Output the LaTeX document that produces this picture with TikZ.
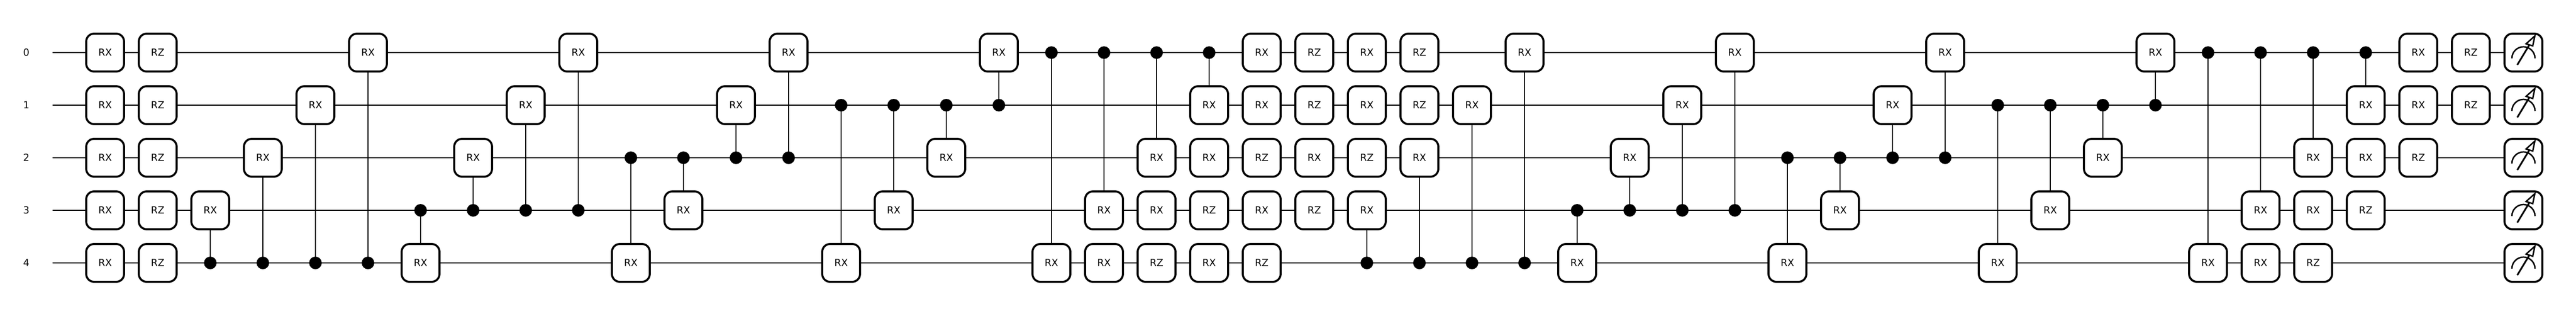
\documentclass[tikz,border=0pt]{standalone}
\usepackage{fontspec}
\setmainfont{DejaVu Sans}
\usepackage{tikz}

\begin{document}
\begin{tikzpicture}[
    gate/.style={draw, rectangle, rounded corners=0.15cm, fill=white, minimum size=0.72cm, inner sep=0pt, line width=0.038cm, font=\fontsize{5.3}{6}\selectfont},
    meter/.style={gate, path picture={
        \draw[shift={(path picture bounding box.center)}, sharp corners, line width=0.027cm] (-0.22,-0.11) arc (180:0:0.22);
        \draw[shift={(path picture bounding box.center)}, sharp corners, line width=0.032cm] (-0.117,-0.233) -- (0.113,0.147);
        \draw[shift={(path picture bounding box.center)}, sharp corners, line width=0.027cm, miter limit=20, fill=white] (0.217,0.317) -- (0.05,0.167) -- (0.177,0.127) -- cycle;
    }},
    dot/.style={circle, fill=black, minimum size=0.24cm, inner sep=0pt, outer sep=0pt},
    lbl/.style={inner sep=0pt, font=\fontsize{5.3}{6}\selectfont},
    n/.style={line width=0.022cm},
    c/.style={line width=0.02cm}]
            \useasboundingbox (0,0) rectangle (49,-6);
            % wire ends
            \coordinate (s0) at (1,-1);
            \coordinate (s1) at (1,-2);
            \coordinate (s2) at (1,-3);
            \coordinate (s3) at (1,-4);
            \coordinate (s4) at (1,-5);
            % labels
            \node[lbl] (q0) at (0.5,-1) {0};
            \node[lbl] (q1) at (0.5,-2) {1};
            \node[lbl] (q2) at (0.5,-3) {2};
            \node[lbl] (q3) at (0.5,-4) {3};
            \node[lbl] (q4) at (0.5,-5) {4};
            % measurements
            \node[meter] (m0) at (48,-1) {};
            \node[meter] (m1) at (48,-2) {};
            \node[meter] (m2) at (48,-3) {};
            \node[meter] (m3) at (48,-4) {};
            \node[meter] (m4) at (48,-5) {};
            % wires
            \draw [n] (s0) -- (m0);
            \draw [n] (s1) -- (m1);
            \draw [n] (s2) -- (m2);
            \draw [n] (s3) -- (m3);
            \draw [n] (s4) -- (m4);
            % gates
            \node[gate] (a2w0) at (2,-1) {RX};
            \node[gate] (a2w1) at (2,-2) {RX};
            \node[gate] (a2w2) at (2,-3) {RX};
            \node[gate] (a2w3) at (2,-4) {RX};
            \node[gate] (a2w4) at (2,-5) {RX};
            \node[gate] (a3w0) at (3,-1) {RZ};
            \node[gate] (a3w1) at (3,-2) {RZ};
            \node[gate] (a3w2) at (3,-3) {RZ};
            \node[gate] (a3w3) at (3,-4) {RZ};
            \node[gate] (a3w4) at (3,-5) {RZ};
            \node[gate] (a4) at (4,-4) {RX};
            \node[gate] (a5) at (5,-3) {RX};
            \node[gate] (a6) at (6,-2) {RX};
            \node[gate] (a7) at (7,-1) {RX};
            \node[gate] (a8) at (8,-5) {RX};
            \node[gate] (a9) at (9,-3) {RX};
            \node[gate] (a10) at (10,-2) {RX};
            \node[gate] (a11) at (11,-1) {RX};
            \node[gate] (a12) at (12,-5) {RX};
            \node[gate] (a13) at (13,-4) {RX};
            \node[gate] (a14) at (14,-2) {RX};
            \node[gate] (a15) at (15,-1) {RX};
            \node[gate] (a16) at (16,-5) {RX};
            \node[gate] (a17) at (17,-4) {RX};
            \node[gate] (a18) at (18,-3) {RX};
            \node[gate] (a19) at (19,-1) {RX};
            \node[gate] (a20) at (20,-5) {RX};
            \node[gate] (a21) at (21,-4) {RX};
            \node[gate] (a21w4) at (21,-5) {RX};
            \node[gate] (a22) at (22,-3) {RX};
            \node[gate] (a22w3) at (22,-4) {RX};
            \node[gate] (a22w4) at (22,-5) {RZ};
            \node[gate] (a23) at (23,-2) {RX};
            \node[gate] (a23w2) at (23,-3) {RX};
            \node[gate] (a23w3) at (23,-4) {RZ};
            \node[gate] (a23w4) at (23,-5) {RX};
            \node[gate] (a24w0) at (24,-1) {RX};
            \node[gate] (a24w1) at (24,-2) {RX};
            \node[gate] (a24w2) at (24,-3) {RZ};
            \node[gate] (a24w3) at (24,-4) {RX};
            \node[gate] (a24w4) at (24,-5) {RZ};
            \node[gate] (a25w0) at (25,-1) {RZ};
            \node[gate] (a25w1) at (25,-2) {RZ};
            \node[gate] (a25w2) at (25,-3) {RX};
            \node[gate] (a25w3) at (25,-4) {RZ};
            \node[gate] (a26w0) at (26,-1) {RX};
            \node[gate] (a26w1) at (26,-2) {RX};
            \node[gate] (a26w2) at (26,-3) {RZ};
            \node[gate] (a26) at (26,-4) {RX};
            \node[gate] (a27w0) at (27,-1) {RZ};
            \node[gate] (a27w1) at (27,-2) {RZ};
            \node[gate] (a27) at (27,-3) {RX};
            \node[gate] (a28) at (28,-2) {RX};
            \node[gate] (a29) at (29,-1) {RX};
            \node[gate] (a30) at (30,-5) {RX};
            \node[gate] (a31) at (31,-3) {RX};
            \node[gate] (a32) at (32,-2) {RX};
            \node[gate] (a33) at (33,-1) {RX};
            \node[gate] (a34) at (34,-5) {RX};
            \node[gate] (a35) at (35,-4) {RX};
            \node[gate] (a36) at (36,-2) {RX};
            \node[gate] (a37) at (37,-1) {RX};
            \node[gate] (a38) at (38,-5) {RX};
            \node[gate] (a39) at (39,-4) {RX};
            \node[gate] (a40) at (40,-3) {RX};
            \node[gate] (a41) at (41,-1) {RX};
            \node[gate] (a42) at (42,-5) {RX};
            \node[gate] (a43) at (43,-4) {RX};
            \node[gate] (a43w4) at (43,-5) {RX};
            \node[gate] (a44) at (44,-3) {RX};
            \node[gate] (a44w3) at (44,-4) {RX};
            \node[gate] (a44w4) at (44,-5) {RZ};
            \node[gate] (a45) at (45,-2) {RX};
            \node[gate] (a45w2) at (45,-3) {RX};
            \node[gate] (a45w3) at (45,-4) {RZ};
            \node[gate] (a46w0) at (46,-1) {RX};
            \node[gate] (a46w1) at (46,-2) {RX};
            \node[gate] (a46w2) at (46,-3) {RZ};
            \node[gate] (a47w0) at (47,-1) {RZ};
            \node[gate] (a47w1) at (47,-2) {RZ};
            % controls
            \node[dot] (d4) at (4,-5) {};
            \node[dot] (d5) at (5,-5) {};
            \node[dot] (d6) at (6,-5) {};
            \node[dot] (d7) at (7,-5) {};
            \node[dot] (d8) at (8,-4) {};
            \node[dot] (d9) at (9,-4) {};
            \node[dot] (d10) at (10,-4) {};
            \node[dot] (d11) at (11,-4) {};
            \node[dot] (d12) at (12,-3) {};
            \node[dot] (d13) at (13,-3) {};
            \node[dot] (d14) at (14,-3) {};
            \node[dot] (d15) at (15,-3) {};
            \node[dot] (d16) at (16,-2) {};
            \node[dot] (d17) at (17,-2) {};
            \node[dot] (d18) at (18,-2) {};
            \node[dot] (d19) at (19,-2) {};
            \node[dot] (d20) at (20,-1) {};
            \node[dot] (d21) at (21,-1) {};
            \node[dot] (d22) at (22,-1) {};
            \node[dot] (d23) at (23,-1) {};
            \node[dot] (d26) at (26,-5) {};
            \node[dot] (d27) at (27,-5) {};
            \node[dot] (d28) at (28,-5) {};
            \node[dot] (d29) at (29,-5) {};
            \node[dot] (d30) at (30,-4) {};
            \node[dot] (d31) at (31,-4) {};
            \node[dot] (d32) at (32,-4) {};
            \node[dot] (d33) at (33,-4) {};
            \node[dot] (d34) at (34,-3) {};
            \node[dot] (d35) at (35,-3) {};
            \node[dot] (d36) at (36,-3) {};
            \node[dot] (d37) at (37,-3) {};
            \node[dot] (d38) at (38,-2) {};
            \node[dot] (d39) at (39,-2) {};
            \node[dot] (d40) at (40,-2) {};
            \node[dot] (d41) at (41,-2) {};
            \node[dot] (d42) at (42,-1) {};
            \node[dot] (d43) at (43,-1) {};
            \node[dot] (d44) at (44,-1) {};
            \node[dot] (d45) at (45,-1) {};
            % edges
            \draw [c] (d4) -- (a4);
            \draw [c] (d5) -- (a5);
            \draw [c] (d6) -- (a6);
            \draw [c] (d7) -- (a7);
            \draw [c] (d8) -- (a8);
            \draw [c] (d9) -- (a9);
            \draw [c] (d10) -- (a10);
            \draw [c] (d11) -- (a11);
            \draw [c] (d12) -- (a12);
            \draw [c] (d13) -- (a13);
            \draw [c] (d14) -- (a14);
            \draw [c] (d15) -- (a15);
            \draw [c] (d16) -- (a16);
            \draw [c] (d17) -- (a17);
            \draw [c] (d18) -- (a18);
            \draw [c] (d19) -- (a19);
            \draw [c] (d20) -- (a20);
            \draw [c] (d21) -- (a21);
            \draw [c] (d22) -- (a22);
            \draw [c] (d23) -- (a23);
            \draw [c] (d26) -- (a26);
            \draw [c] (d27) -- (a27);
            \draw [c] (d28) -- (a28);
            \draw [c] (d29) -- (a29);
            \draw [c] (d30) -- (a30);
            \draw [c] (d31) -- (a31);
            \draw [c] (d32) -- (a32);
            \draw [c] (d33) -- (a33);
            \draw [c] (d34) -- (a34);
            \draw [c] (d35) -- (a35);
            \draw [c] (d36) -- (a36);
            \draw [c] (d37) -- (a37);
            \draw [c] (d38) -- (a38);
            \draw [c] (d39) -- (a39);
            \draw [c] (d40) -- (a40);
            \draw [c] (d41) -- (a41);
            \draw [c] (d42) -- (a42);
            \draw [c] (d43) -- (a43);
            \draw [c] (d44) -- (a44);
            \draw [c] (d45) -- (a45);
        \end{tikzpicture}
\end{document}
